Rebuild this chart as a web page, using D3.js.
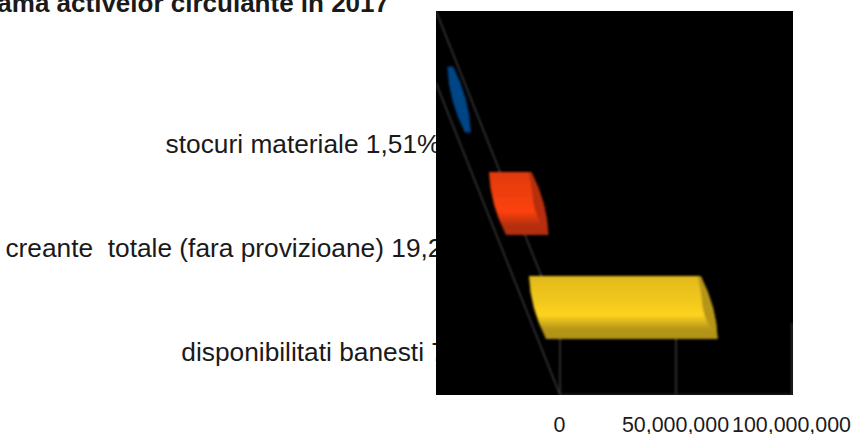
<!DOCTYPE html>
<html>
<head>
<meta charset="utf-8">
<script src="https://d3js.org/d3.v7.min.js"></script>
<style>
  html, body { margin: 0; padding: 0; background: #fff; overflow: hidden; }
  text { font-family: "Liberation Sans", Arial, sans-serif; fill: #1a1a1a; white-space: pre; }
</style>
</head>
<body>
<svg id="chart" width="853" height="434"></svg>
<script>
const categories = ['stocuri materiale 1,51%', 'creante  totale (fara provizioane) 19,23%', 'disponibilitati banesti 79,26%']
const values = [1410000, 18300000, 74000000]
const colors = ['#004586', '#ff420e', '#ffd320']
const xTicks = [0, 50000000, 100000000]
const titleText = 'Diagrama activelor circulante in 2017'

const svg = d3.select('#chart')

const plot = { left: 436, right: 793, top: 11, bottom: 395 }

const xScale = d3.scaleLinear().domain([0, 100000000]).range([560, 792])
const yScale = d3.scaleBand().domain(categories).range([47.5, 359.5])
  .paddingInner(0.394).paddingOuter(0.197)

// oblique 3d floor: how far a bar start sits left of zero at its top edge
const skew = 0.385
const barShift = 17
const bulge = 7.4
const baseX = y => 529 + (y - 276) * skew

// title and category labels go first, the black plot covers their ends
svg.append('text')
  .attr('x', 389)
  .attr('y', 12)
  .attr('text-anchor', 'end')
  .style('font-size', '26px')
  .style('font-weight', 'bold')
  .text(titleText)

// labels follow the slant of the floor, so each tick is moved sideways
svg.append('g')
  .attr('transform', 'translate(0,45.5)')
  .call(d3.axisLeft(yScale).tickSize(0).tickPadding(0))
  .call(g => g.select('.domain').remove())
  .call(g => g.selectAll('.tick')
    .attr('transform', d => 'translate(' + (baseX(yScale(d)) - 8.5) + ',' + (yScale(d) + yScale.bandwidth() / 2) + ')'))
  .call(g => g.selectAll('text').style('font-size', '26.3px').attr('fill', '#1a1a1a'))

svg.append('rect')
  .attr('x', plot.left)
  .attr('y', plot.top)
  .attr('width', plot.right - plot.left)
  .attr('height', plot.bottom - plot.top)
  .attr('fill', '#000')

// keep the soft look of the reference
let defs = svg.append('defs')
defs.append('clipPath').attr('id', 'plotClip').append('rect')
  .attr('x', plot.left)
  .attr('y', plot.top)
  .attr('width', plot.right - plot.left)
  .attr('height', plot.bottom - plot.top)
defs.append('filter').attr('id', 'soft')
  .append('feGaussianBlur').attr('stdDeviation', 0.8)

let inner = svg.append('g')
  .attr('clip-path', 'url(#plotClip)')
  .append('g')
  .attr('filter', 'url(#soft)')

// gridlines and floor
const lineColor = '#484848'
const lineWidth = 1.2
inner.selectAll('.grid')
  .data(xTicks)
  .join('line')
  .attr('class', 'grid')
  .attr('x1', d => xScale(d))
  .attr('x2', d => xScale(d))
  .attr('y1', 323)
  .attr('y2', plot.bottom)
  .attr('stroke', lineColor)
  .attr('stroke-width', lineWidth)
inner.append('line')
  .attr('x1', xScale(0)).attr('x2', xScale(100000000))
  .attr('y1', plot.bottom).attr('y2', plot.bottom)
  .attr('stroke', lineColor).attr('stroke-width', lineWidth)
inner.append('line')
  .attr('x1', plot.left).attr('y1', plot.top)
  .attr('x2', xScale(0)).attr('y2', 323)
  .attr('stroke', lineColor).attr('stroke-width', lineWidth)
inner.append('line')
  .attr('x1', plot.left).attr('y1', 83)
  .attr('x2', xScale(0)).attr('y2', plot.bottom)
  .attr('stroke', lineColor).attr('stroke-width', lineWidth)

// a vertical gradient per bar, brightest low down with a dark underside
colors.forEach((c, i) => {
  let grad = defs.append('linearGradient')
    .attr('id', 'barGrad' + i)
    .attr('x1', '0%').attr('y1', '0%')
    .attr('x2', '0%').attr('y2', '100%')
  let stops = [
    [0, d3.color(c).darker(0.35)],
    [0.45, d3.color(c).darker(0.12)],
    [0.62, d3.color(c)],
    [0.72, d3.color(c).darker(0.4)],
    [0.84, d3.color(c).darker(0.95)],
    [1, d3.color(c).darker(1.05)]
  ]
  stops.forEach(s => {
    grad.append('stop').attr('offset', s[0]).attr('stop-color', s[1])
  })
})

let bars = inner.selectAll('.bar')
  .data(categories)
  .join('g')
  .attr('class', 'bar')

const barWidth = i => xScale(values[i]) - xScale(0)

// a very short bar is nearly all end cap, so it gets a plain rounded shape
bars.append('path')
  .attr('fill', (d, i) => barWidth(i) < 10 ? colors[i] : 'url(#barGrad' + i + ')')
  .attr('stroke', (d, i) => barWidth(i) < 10 ? colors[i] : 'none')
  .attr('stroke-width', 3)
  .attr('d', (d, i) => {
    let y0 = yScale(d)
    let y1 = y0 + yScale.bandwidth()
    let x0 = baseX(y0)
    let w = barWidth(i)
    let midY = (y0 + y1) / 2
    return 'M' + x0 + ',' + y0 +
      'L' + (x0 + w) + ',' + y0 +
      'Q' + (x0 + w + barShift / 2 + bulge) + ',' + midY + ' ' + (x0 + w + barShift) + ',' + y1 +
      'L' + (x0 + barShift) + ',' + y1 +
      'Q' + (x0 + barShift / 2 - bulge) + ',' + midY + ' ' + x0 + ',' + y0 + 'Z'
  })

// darker end cap
bars.filter((d, i) => barWidth(i) >= 10).append('path')
  .attr('fill', d => d3.color(colors[categories.indexOf(d)]).darker(0.95))
  .attr('d', d => {
    let i = categories.indexOf(d)
    let y0 = yScale(d)
    let y1 = y0 + yScale.bandwidth()
    let x0 = baseX(y0)
    let w = barWidth(i)
    let midY = (y0 + y1) / 2
    return 'M' + (x0 + w - 3) + ',' + y0 +
      'L' + (x0 + w) + ',' + y0 +
      'Q' + (x0 + w + barShift / 2 + bulge) + ',' + midY + ' ' + (x0 + w + barShift) + ',' + y1 +
      'Q' + (x0 + w + 4) + ',' + (y1 - 18) + ' ' + (x0 + w + 2) + ',' + midY +
      'Q' + (x0 + w) + ',' + (y0 + 12) + ' ' + (x0 + w - 3) + ',' + y0 + 'Z'
  })

// value axis labels
svg.append('g')
  .attr('transform', 'translate(-1,417)')
  .call(d3.axisBottom(xScale).tickValues(xTicks).tickFormat(d3.format(',')).tickSize(0).tickPadding(0))
  .call(g => g.select('.domain').remove())
  .call(g => g.selectAll('text')
    .style('font-size', '21.4px')
    .attr('fill', '#1a1a1a'))
</script>
</body>
</html>
